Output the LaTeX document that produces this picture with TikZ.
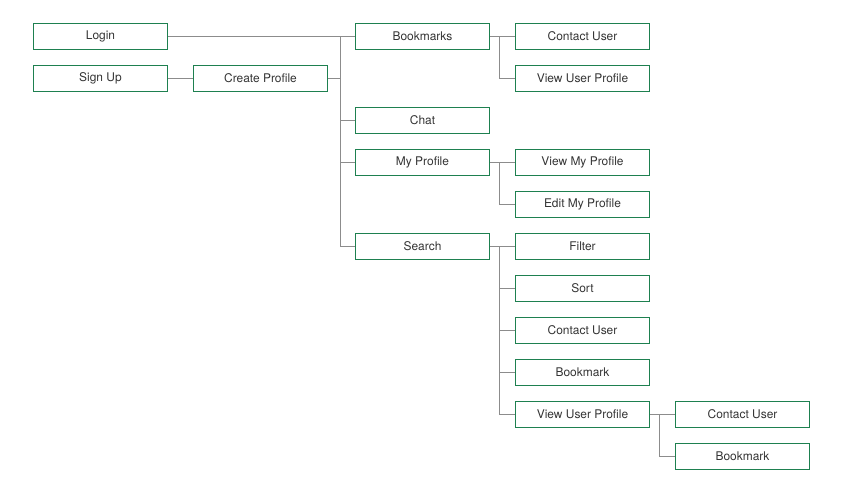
\documentclass[tikz,border=0pt]{standalone}
\usepackage{fontspec}
\setmainfont{TeX Gyre Heros}
\usepackage{tikz}
\definecolor{boxgreen}{HTML}{1E8050}
\definecolor{linkgray}{HTML}{8C8C8C}
\definecolor{textgray}{HTML}{333333}

\begin{document}
\begin{tikzpicture}[x=0.03cm,y=-0.03cm,
    box/.style={draw=boxgreen, line width=0.8pt, minimum width=4.03cm, minimum height=0.78cm,
        inner sep=0pt, text=textgray, font=\fontsize{10.2}{12}\selectfont},
    link/.style={draw=linkgray, line width=0.8pt}]
    \useasboundingbox (0,0) rectangle (842,488);

    \node[box] (login) at (100.5,36.3) {Login};
    \node[box] (signup) at (100.5,78.3) {Sign Up};
    \node[box] (createprofile) at (260.5,78.3) {Create Profile};

    \node[box] (bookmarks) at (422.5,36.3) {Bookmarks};
    \node[box] (chat) at (422.5,120.3) {Chat};
    \node[box] (myprofile) at (422.5,162.3) {My Profile};
    \node[box] (search) at (422.5,246.3) {Search};

    \node[box] (bmcontact) at (582.5,36.3) {Contact User};
    \node[box] (bmview) at (582.5,78.3) {View User Profile};
    \node[box] (viewmy) at (582.5,162.3) {View My Profile};
    \node[box] (editmy) at (582.5,204.3) {Edit My Profile};
    \node[box] (filter) at (582.5,246.3) {Filter};
    \node[box] (sort) at (582.5,288.3) {Sort};
    \node[box] (srcontact) at (582.5,330.3) {Contact User};
    \node[box] (srbookmark) at (582.5,372.3) {Bookmark};
    \node[box] (srview) at (582.5,414.3) {View User Profile};

    \node[box] (vucontact) at (742.5,414.3) {Contact User};
    \node[box] (vubookmark) at (742.5,456.3) {Bookmark};

    \coordinate (mainbus) at (340.3,0);
    \coordinate (bmbus) at (499.3,0);
    \coordinate (mpbus) at (499.3,0);
    \coordinate (srbus) at (499.3,0);
    \coordinate (vubus) at (659.3,0);

    \draw[link] (login.east) -- (bookmarks.west);
    \draw[link] (signup.east) -- (createprofile.west);
    \draw[link] (createprofile.east) -- (createprofile.east -| mainbus);
    \draw[link] (mainbus |- login.east) -- (mainbus |- search.west) -- (search.west);
    \draw[link] (mainbus |- chat.west) -- (chat.west);
    \draw[link] (mainbus |- myprofile.west) -- (myprofile.west);

    \draw[link] (bookmarks.east) -- (bmcontact.west);
    \draw[link] (bmbus |- bookmarks.east) |- (bmview.west);

    \draw[link] (myprofile.east) -- (viewmy.west);
    \draw[link] (mpbus |- myprofile.east) |- (editmy.west);

    \draw[link] (search.east) -- (filter.west);
    \draw[link] (srbus |- search.east) |- (srview.west);
    \draw[link] (srbus |- sort.west) -- (sort.west);
    \draw[link] (srbus |- srcontact.west) -- (srcontact.west);
    \draw[link] (srbus |- srbookmark.west) -- (srbookmark.west);

    \draw[link] (srview.east) -- (vucontact.west);
    \draw[link] (vubus |- srview.east) |- (vubookmark.west);
\end{tikzpicture}
\end{document}
